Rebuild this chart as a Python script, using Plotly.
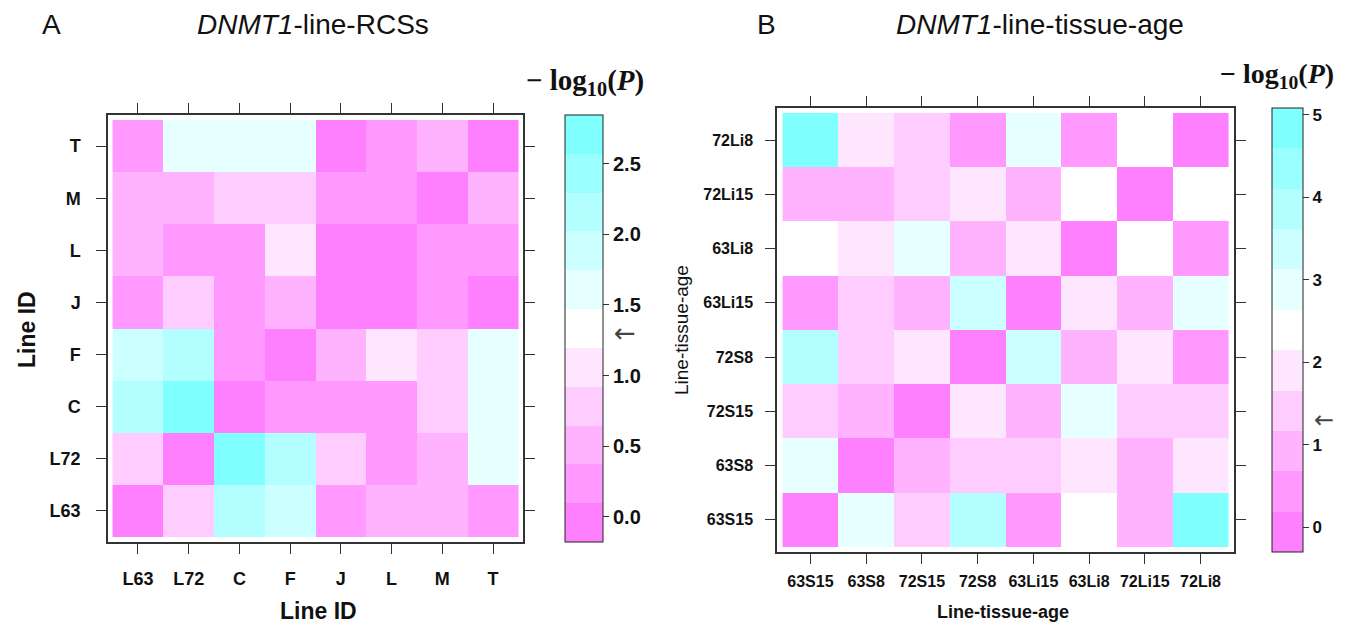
import plotly.graph_objects as go

W, H = 1347, 629

# ---------------- data ----------------
line_ids = ["L63", "L72", "C", "F", "J", "L", "M", "T"]
# -log10(P), rows = y categories (bottom -> top), cols = x categories
z_rcs = [
    [0.00, 0.80, 2.14, 1.90, 0.24, 0.49, 0.53, 0.21],  # L63
    [0.80, 0.00, 2.66, 2.19, 0.76, 0.26, 0.45, 1.63],  # L72
    [2.14, 2.66, 0.00, 0.27, 0.30, 0.25, 0.82, 1.59],  # C
    [1.90, 2.19, 0.27, 0.00, 0.55, 1.08, 0.79, 1.60],  # F
    [0.24, 0.76, 0.30, 0.55, 0.00, 0.04, 0.28, 0.06],  # J
    [0.49, 0.26, 0.25, 1.08, 0.04, 0.00, 0.22, 0.29],  # L
    [0.53, 0.45, 0.82, 0.79, 0.28, 0.22, 0.00, 0.47],  # M
    [0.21, 1.63, 1.59, 1.60, 0.06, 0.29, 0.47, 0.00],  # T
]

tissue_ids = ["63S15", "63S8", "72S15", "72S8", "63Li15", "63Li8", "72Li15", "72Li8"]
z_tissue = [
    [0.00, 2.85, 1.38, 3.90, 0.45, 2.40, 0.95, 4.75],  # 63S15
    [2.85, 0.00, 0.88, 1.45, 1.36, 1.92, 0.96, 1.86],  # 63S8
    [1.38, 0.88, 0.00, 1.95, 0.90, 2.92, 1.42, 1.39],  # 72S15
    [3.90, 1.45, 1.95, 0.00, 3.35, 0.93, 1.88, 0.40],  # 72S8
    [0.45, 1.36, 0.90, 3.35, 0.00, 1.93, 0.87, 2.86],  # 63Li15
    [2.40, 1.92, 2.92, 0.93, 1.93, 0.00, 2.37, 0.47],  # 63Li8
    [0.95, 0.96, 1.42, 1.88, 0.87, 2.37, 0.00, 2.42],  # 72Li15
    [4.75, 1.86, 1.39, 0.40, 2.86, 0.47, 2.42, 0.00],  # 72Li8
]

cbar_ticks_a = [0.0, 0.5, 1.0, 1.5, 2.0, 2.5]
cbar_ticks_b = [0, 1, 2, 3, 4, 5]
zlim_a = (-0.177, 2.843)
zlim_b = (-0.30, 5.08)
sig_level = 1.301  # -log10(0.05)

# cm.colors(11), reversed: magenta (low) -> white -> cyan (high)
cm_colors = ["#FF80FF", "#FF99FF", "#FFB3FF", "#FFCCFF", "#FFE6FF", "#FFFFFF",
             "#E6FFFF", "#CCFFFF", "#B3FFFF", "#99FFFF", "#80FFFF"]

# ---------------- helpers ----------------
def px(x):
    return x / W

def py(y):
    return 1 - y / H

def discrete_scale(cols):
    n = len(cols)
    sc = []
    for i, c in enumerate(cols):
        sc.append([i / n, c])
        sc.append([(i + 1) / n, c])
    return sc

scale = discrete_scale(cm_colors)
SANS = "Liberation Sans, Arial, sans-serif"
SERIF = "Liberation Serif, Times New Roman, serif"

# panel geometry in pixels (frames)
A_frame = dict(x0=108, x1=523, y0=115, y1=542)
B_frame = dict(x0=777, x1=1234, y0=108, y1=552)
A_cb = dict(x0=565, w=38, y0=115, y1=542)
B_cb = dict(x0=1272, w=31, y0=108, y1=552)

fig = go.Figure()

fig.add_trace(go.Heatmap(
    x=line_ids, y=line_ids, z=z_rcs,
    colorscale=scale, zmin=zlim_a[0], zmax=zlim_a[1],
    xaxis="x", yaxis="y", hoverinfo="x+y+z",
    colorbar=dict(
        x=px(A_cb["x0"]), xanchor="left", xpad=0, ypad=0,
        y=py(A_cb["y1"]), yanchor="bottom",
        len=(A_cb["y1"] - A_cb["y0"]) / H, lenmode="fraction",
        thickness=A_cb["w"], thicknessmode="pixels",
        outlinewidth=1, outlinecolor="#222",
        tickvals=cbar_ticks_a, ticktext=["%.1f" % v for v in cbar_ticks_a],
        ticks="outside", ticklen=6, tickwidth=1, tickcolor="#333",
        tickfont=dict(family=SANS, size=20, color="#111", weight="bold"),
    ),
))

fig.add_trace(go.Heatmap(
    x=tissue_ids, y=tissue_ids, z=z_tissue,
    colorscale=scale, zmin=zlim_b[0], zmax=zlim_b[1],
    xaxis="x2", yaxis="y2", hoverinfo="x+y+z",
    colorbar=dict(
        x=px(B_cb["x0"]), xanchor="left", xpad=0, ypad=0,
        y=py(B_cb["y1"]), yanchor="bottom",
        len=(B_cb["y1"] - B_cb["y0"]) / H, lenmode="fraction",
        thickness=B_cb["w"], thicknessmode="pixels",
        outlinewidth=1, outlinecolor="#222",
        tickvals=cbar_ticks_b, ticktext=[str(v) for v in cbar_ticks_b],
        ticks="outside", ticklen=6, tickwidth=1, tickcolor="#333",
        tickfont=dict(family=SANS, size=17, color="#111", weight="bold"),
    ),
))

def axis(frame, horiz, pad, cats, fsize, standoff):
    if horiz:
        dom = [px(frame["x0"]), px(frame["x1"])]
    else:
        dom = [py(frame["y1"]), py(frame["y0"])]
    return dict(
        domain=dom, type="category", categoryorder="array", categoryarray=cats,
        range=[-0.5 - pad, len(cats) - 0.5 + pad],
        showline=True, linecolor="#333", linewidth=1.5, mirror="ticks",
        ticks="outside", ticklen=10, tickwidth=1.2, tickcolor="#333",
        ticklabelstandoff=standoff,
        showgrid=False, zeroline=False, fixedrange=True,
        tickfont=dict(family=SANS, size=fsize, color="#111", weight="bold"),
    )

fig.update_layout(
    width=W, height=H,
    margin=dict(l=0, r=0, t=0, b=0),
    paper_bgcolor="white", plot_bgcolor="white",
    showlegend=False,
    xaxis=dict(axis(A_frame, True, 0.09, line_ids, 18, 10), anchor="y"),
    yaxis=dict(axis(A_frame, False, 0.096, line_ids, 18, 12), anchor="x"),
    xaxis2=dict(axis(B_frame, True, 0.10, tissue_ids, 16, 4), anchor="y2"),
    yaxis2=dict(axis(B_frame, False, 0.092, tissue_ids, 16, 9), anchor="x2"),
)

def cb_y(cb, zlim, v):
    frac = (v - zlim[0]) / (zlim[1] - zlim[0])
    ypix = cb["y1"] - frac * (cb["y1"] - cb["y0"])
    return py(ypix)

ann = [
    dict(text="A", x=px(52), y=py(25), font=dict(family=SANS, size=28, color="#111")),
    dict(text="<i>DNMT1</i>-line-RCSs", x=px(313), y=py(25), font=dict(family=SANS, size=28, color="#111")),
    dict(text="B", x=px(766), y=py(25), font=dict(family=SANS, size=28, color="#111")),
    dict(text="<i>DNMT1</i>-line-tissue-age", x=px(1040), y=py(25), font=dict(family=SANS, size=28, color="#111")),
    dict(text="<b>− log<sub>10</sub>(<i>P</i>)</b>", x=px(585), y=py(82), font=dict(family=SERIF, size=29, color="#111")),
    dict(text="<b>− log<sub>10</sub>(<i>P</i>)</b>", x=px(1277), y=py(75), font=dict(family=SERIF, size=28, color="#111")),
    dict(text="<b>Line ID</b>", x=px(318), y=py(611), font=dict(family=SANS, size=23, color="#111")),
    dict(text="<b>Line ID</b>", x=px(27), y=py(330), textangle=-90, font=dict(family=SANS, size=23, color="#111")),
    dict(text="<b>Line-tissue-age</b>", x=px(1003), y=py(612), font=dict(family=SANS, size=18, color="#111")),
    dict(text="Line-tissue-age", x=px(681), y=py(330), textangle=-90, font=dict(family=SANS, size=19, color="#111")),
    dict(text="←", x=px(A_cb["x0"] + A_cb["w"] + 22), y=cb_y(A_cb, zlim_a, sig_level),
         font=dict(family="DejaVu Sans, sans-serif", size=26, color="#444")),
    dict(text="←", x=px(B_cb["x0"] + B_cb["w"] + 21), y=cb_y(B_cb, zlim_b, sig_level),
         font=dict(family="DejaVu Sans, sans-serif", size=24, color="#444")),
]
for a in ann:
    a.update(xref="paper", yref="paper", showarrow=False, xanchor="center", yanchor="middle")
fig.update_layout(annotations=ann)

fig.write_html("out.html", config={"displayModeBar": False},
               post_script="document.body.style.margin='0';document.body.style.overflow='hidden';")
